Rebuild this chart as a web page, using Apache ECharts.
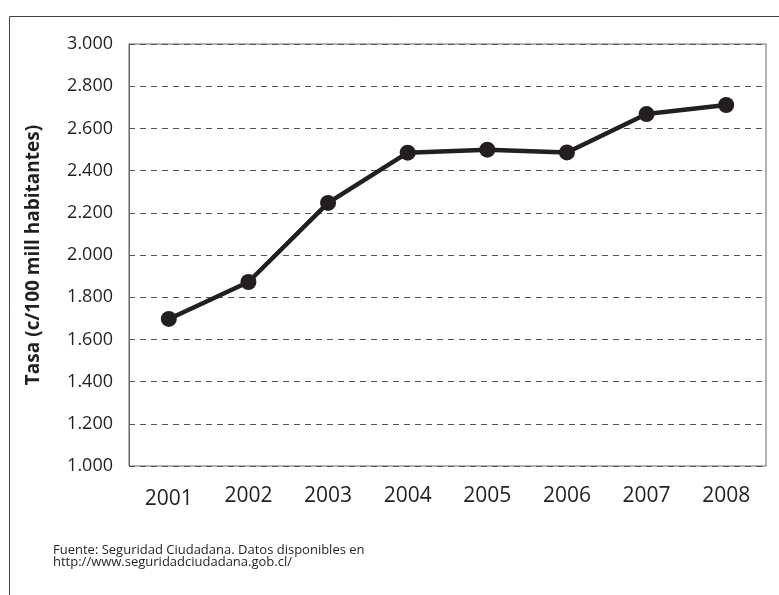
<!DOCTYPE html>
<html>
<head>
<meta charset="utf-8">
<script src="https://cdn.jsdelivr.net/npm/echarts@6/dist/echarts.min.js"></script>
<style>html,body{margin:0;padding:0;background:#fff}#c{width:779px;height:595px}</style>
</head>
<body>
<div id="c"></div>
<script>
const years = ['2001','2002','2003','2004','2005','2006','2007','2008'];
const tasa = [1697, 1872, 2247, 2485, 2499, 2486, 2668, 2711];
const yTicks = {min: 1000, max: 3000, interval: 200};
const yAxisName = 'Tasa (c/100 mill habitantes)';
const sourceLines = ['Fuente: Seguridad Ciudadana. Datos disponibles en', 'http://www.seguridadciudadana.gob.cl/'];

const fmt = v => String(v).replace(/\B(?=(\d{3})+(?!\d))/g, '.');
const chart = echarts.init(document.getElementById('c'), null, {renderer: 'canvas'});
chart.setOption({
  animation: false,
  backgroundColor: '#fff',
  grid: {left: 129, right: 13, top: 44, bottom: 129, show: true, borderColor: '#666', borderWidth: 1},
  xAxis: {
    type: 'category',
    data: years.map((y, i) => i === 0 ? {value: y, textStyle: {padding: [3, 0, 0, 0]}} : y),
    boundaryGap: true,
    axisLine: {show: false},
    axisTick: {show: false},
    axisLabel: {color: '#231f20', fontSize: 21, fontFamily: 'Open Sans', margin: 20}
  },
  yAxis: {
    type: 'value',
    min: yTicks.min, max: yTicks.max, interval: yTicks.interval,
    name: yAxisName,
    nameLocation: 'middle',
    nameGap: 86,
    nameTextStyle: {fontSize: 19, fontWeight: 'bold', color: '#231f20', fontFamily: 'Open Sans'},
    axisLine: {show: true, lineStyle: {color: '#666'}},
    axisTick: {show: false},
    axisLabel: {color: '#231f20', fontSize: 18, fontFamily: 'Open Sans', margin: 16, formatter: fmt},
    splitLine: {show: true, lineStyle: {color: '#555', type: [6, 5], width: 1}}
  },
  series: [{
    type: 'line',
    data: tasa,
    symbol: 'circle',
    symbolSize: 16,
    lineStyle: {color: '#231f20', width: 4.5},
    itemStyle: {color: '#231f20'}
  }],
  graphic: [
    {type: 'rect', left: 7, top: 14, shape: {width: 800, height: 620}, style: {fill: null, stroke: '#444', lineWidth: 1}, silent: true},
    {type: 'text', left: 53, top: 544, style: {text: sourceLines.join('\n'), font: '13px "Open Sans"', lineHeight: 12, fill: '#231f20'}}
  ]
});
</script>
</body>
</html>
